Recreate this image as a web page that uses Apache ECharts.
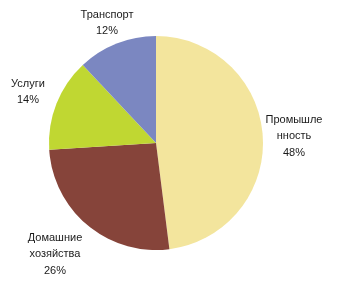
<!DOCTYPE html>
<html><head><meta charset="utf-8">
<script src="https://cdn.jsdelivr.net/npm/echarts@6/dist/echarts.min.js"></script>
<style>html,body{margin:0;padding:0;background:#fff}#c{width:347px;height:298px}</style>
</head><body><div id="c"></div>
<script>
const categories = ['Промышленность', 'Домашние хозяйства', 'Услуги', 'Транспорт'];
const values = [48, 26, 14, 12];
const labelNames = ['Промышле\nнность', 'Домашние\nхозяйства', 'Услуги', 'Транспорт'];
const colors = ['#F3E59D', '#86443A', '#C0D732', '#7B87C1'];
const labelPos = [[294, 136], [55, 254], [28, 92], [107, 23]];

const chart = echarts.init(document.getElementById('c'), null, {renderer: 'canvas'});
chart.setOption({
  animation: false,
  series: [{
    type: 'pie',
    center: [156, 143],
    radius: 107,
    startAngle: 90,
    clockwise: true,
    avoidLabelOverlap: false,
    data: categories.map((n, i) => ({name: n, value: values[i], itemStyle: {color: colors[i]}})),
    label: {
      show: true,
      position: 'inside',
      overflow: 'none',
      formatter: p => labelNames[p.dataIndex] + '\n' + p.value + '%',
      fontFamily: 'Liberation Sans, Arial, sans-serif',
      fontSize: 11,
      lineHeight: 16.5,
      color: '#1a1a1a',
      align: 'center'
    },
    labelLine: {show: false},
    labelLayout: p => ({x: labelPos[p.dataIndex][0], y: labelPos[p.dataIndex][1], align: 'center', verticalAlign: 'middle', hideOverlap: false}),
    itemStyle: {borderWidth: 0},
    emphasis: {disabled: true}
  }]
});
</script></body></html>
